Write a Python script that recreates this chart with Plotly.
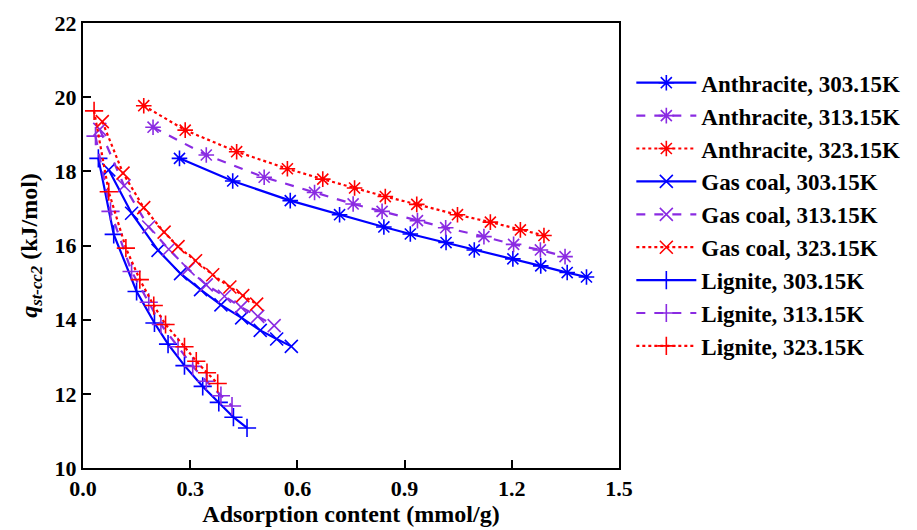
import plotly.graph_objects as go

# Anthracite
ant303_x = [0.270, 0.419, 0.580, 0.718, 0.842, 0.916, 1.016, 1.095, 1.203, 1.281, 1.355, 1.409]
ant303_y = [18.35, 17.74, 17.21, 16.83, 16.50, 16.31, 16.08, 15.88, 15.64, 15.45, 15.27, 15.15]
ant313_x = [0.196, 0.345, 0.507, 0.648, 0.756, 0.837, 0.936, 1.015, 1.122, 1.205, 1.280, 1.349]
ant313_y = [19.19, 18.44, 17.84, 17.43, 17.12, 16.92, 16.67, 16.48, 16.24, 16.03, 15.88, 15.70]
ant323_x = [0.170, 0.286, 0.430, 0.572, 0.671, 0.760, 0.846, 0.934, 1.048, 1.140, 1.224, 1.290]
ant323_y = [19.77, 19.11, 18.53, 18.07, 17.79, 17.55, 17.32, 17.11, 16.83, 16.63, 16.42, 16.27]

# Gas coal
gas303_x = [0.072, 0.136, 0.210, 0.273, 0.329, 0.386, 0.444, 0.496, 0.542, 0.583]
gas303_y = [18.04, 16.87, 15.87, 15.24, 14.81, 14.40, 14.05, 13.71, 13.48, 13.28]
gas313_x = [0.047, 0.115, 0.184, 0.240, 0.294, 0.345, 0.396, 0.442, 0.489, 0.535]
gas313_y = [19.13, 17.61, 16.50, 15.90, 15.37, 14.94, 14.63, 14.34, 14.09, 13.84]
gas323_x = [0.054, 0.112, 0.170, 0.227, 0.266, 0.315, 0.363, 0.411, 0.447, 0.486]
gas323_y = [19.34, 17.95, 17.02, 16.36, 15.97, 15.59, 15.21, 14.88, 14.65, 14.42]

# Lignite
lig303_x = [0.043, 0.086, 0.150, 0.200, 0.238, 0.284, 0.335, 0.380, 0.421, 0.459]
lig303_y = [18.35, 16.30, 14.76, 13.91, 13.34, 12.76, 12.20, 11.77, 11.37, 11.08]
lig313_x = [0.035, 0.077, 0.136, 0.184, 0.218, 0.266, 0.307, 0.345, 0.386, 0.417]
lig313_y = [18.95, 16.92, 15.30, 14.47, 13.87, 13.27, 12.74, 12.34, 11.95, 11.67]
lig323_x = [0.031, 0.072, 0.120, 0.159, 0.198, 0.231, 0.284, 0.317, 0.347, 0.377]
lig323_y = [19.63, 17.45, 15.93, 15.08, 14.38, 13.87, 13.27, 12.88, 12.57, 12.28]

names = ["Anthracite, 303.15K", "Anthracite, 313.15K", "Anthracite, 323.15K",
         "Gas coal, 303.15K", "Gas coal, 313.15K", "Gas coal, 323.15K",
         "Lignite, 303.15K", "Lignite, 313.15K", "Lignite, 323.15K"]
xs = [ant303_x, ant313_x, ant323_x, gas303_x, gas313_x, gas323_x, lig303_x, lig313_x, lig323_x]
ys = [ant303_y, ant313_y, ant323_y, gas303_y, gas313_y, gas323_y, lig303_y, lig313_y, lig323_y]

colors = ["#0000FF", "#8A2BE2", "#FF0000"]
dashes = ["solid", "dash", "dot"]
symbols = ["asterisk-open", "x-thin-open", "cross-thin-open"]

fig = go.Figure()
for i, (nm, x, y) in enumerate(zip(names, xs, ys)):
    t = i % 3
    s = i // 3
    fig.add_trace(go.Scatter(
        x=x, y=y, name=nm, mode="lines+markers",
        legendgroup=nm,
        line=dict(color=colors[t], dash=dashes[t], width=2.2),
        marker=dict(symbol=symbols[s], size=13, color=colors[t],
                    line=dict(color=colors[t], width=1.6)),
    ))

font = "Liberation Serif, Times New Roman, serif"
fig.update_layout(
    width=917, height=530,
    margin=dict(l=83, r=296, t=23, b=62),
    paper_bgcolor="white", plot_bgcolor="white",
    font=dict(family=font, size=22, color="black", weight="bold"),
    showlegend=True,
    legend=dict(x=1.023, y=0.914, xanchor="left", yanchor="top",
                font=dict(family=font, size=23, color="black", weight="bold"),
                traceorder="grouped", tracegroupgap=0, itemwidth=60,
                bgcolor="rgba(0,0,0,0)"),
    xaxis=dict(range=[0, 1.5], tickvals=[0, 0.3, 0.6, 0.9, 1.2, 1.5],
               ticktext=["0.0", "0.3", "0.6", "0.9", "1.2", "1.5"],
               ticks="inside", ticklen=8, tickwidth=2, tickcolor="black",
               showline=True, linewidth=2, linecolor="black", mirror=True,
               showgrid=False, zeroline=False, automargin=False,
               tickfont=dict(family=font, size=22, color="black", weight="bold"),
               title=dict(text="Adsorption content (mmol/g)", standoff=2,
                          font=dict(family=font, size=24, color="black", weight="bold"))),
    yaxis=dict(range=[10, 22], tickvals=[10, 12, 14, 16, 18, 20, 22],
               ticks="inside", ticklen=8, tickwidth=2, tickcolor="black",
               showline=True, linewidth=2, linecolor="black", mirror=True,
               showgrid=False, zeroline=False, automargin=False,
               tickfont=dict(family=font, size=22, color="black", weight="bold"),
               title=dict(text="<i>q</i><sub><i>st-cc2</i></sub> (kJ/mol)", standoff=10,
                          font=dict(family=font, size=24, color="black", weight="bold"))),
)

fig.write_html("out.html")
